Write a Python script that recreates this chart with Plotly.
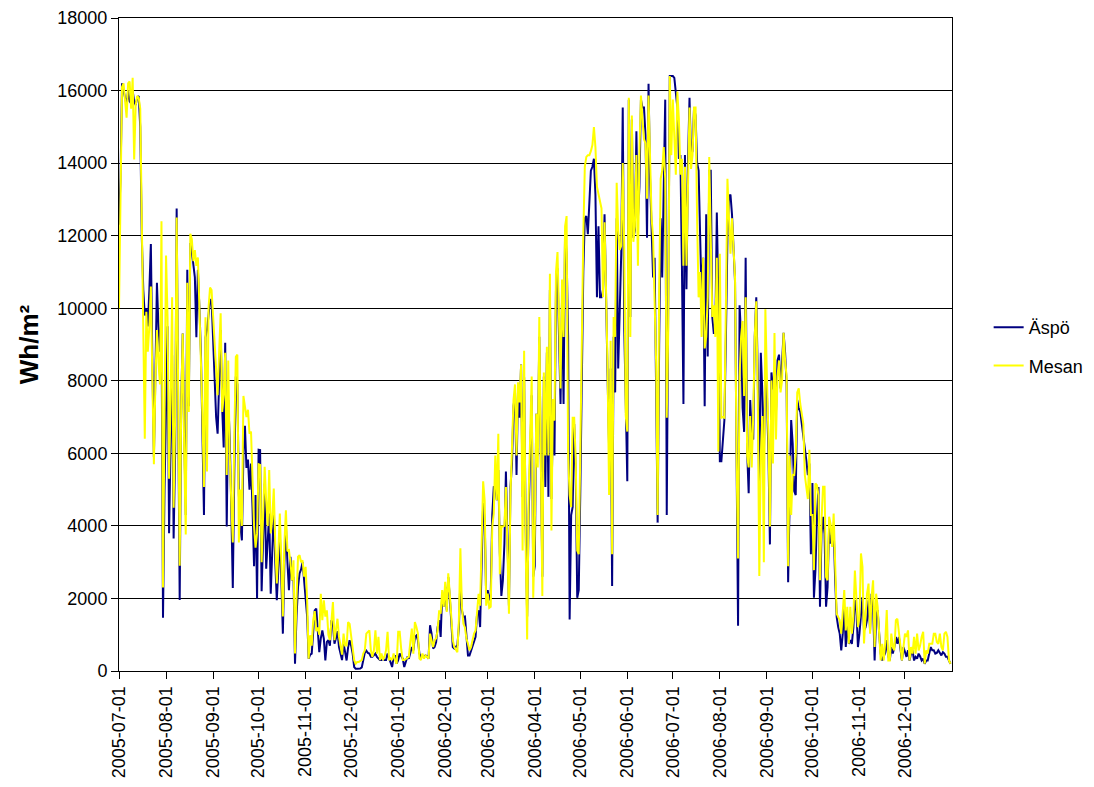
import pandas as pd
import plotly.graph_objects as go

START_DATE = "2005-07-01"

# Daily global radiation, Wh/m2, 2005-07-01 .. 2006-12-31
aspo = [
    12300, 13600, 16200, 16000, 15700, 15600, 16000, 15700, 15650, 16000,
    15700, 15600, 15800, 15850, 15000, 12000, 10500, 9800, 10000, 9500,
    10500, 11770, 8500, 5900, 8200, 10700, 9500, 8800, 10000, 1470,
    5000, 7100, 9500, 3800, 6500, 8700, 3650, 6000, 12750, 6500,
    1960, 7350, 9300, 6500, 4300, 11060, 7300, 11800, 11600, 11200,
    10850, 9200, 11060, 10000, 8770, 6500, 4300, 9200, 9400, 9800,
    10200, 10250, 9300, 8200, 7000, 6540, 8000, 9400, 7250, 6160,
    9050, 3980, 7470, 6380, 4500, 2290, 5500, 8120, 7900, 4850,
    4000, 3600, 6000, 6760, 5600, 5830, 5000, 5720, 4500, 2890,
    4850, 2000, 6100, 6090, 2200, 4000, 5170, 2820, 3500, 4340,
    2130, 3500, 4430, 3000, 1950, 2800, 3800, 2500, 1030, 3000,
    4000, 3000, 2230, 3150, 2500, 2600, 200, 1500, 2320, 2690,
    2800, 3000, 2500, 2130, 1500, 340, 450, 480, 1200, 1670,
    1720, 1000, 520, 900, 1120, 890, 290, 800, 850, 700,
    1400, 1300, 750, 900, 1100, 660, 500, 300, 760, 500,
    290, 650, 850, 700, 480, 110, 60, 60, 60, 70,
    100, 300, 500, 560, 500, 480, 390, 390, 430, 480,
    390, 340, 300, 300, 340, 300, 300, 480, 340, 200,
    110, 390, 430, 200, 300, 480, 400, 340, 110, 250,
    390, 340, 500, 660, 570, 940, 980, 850, 480, 390,
    430, 390, 430, 400, 340, 1260, 1030, 620, 660, 800,
    1210, 1400, 940, 2130, 1770, 2320, 1670, 2590, 2040, 1200,
    660, 620, 660, 710, 1210, 2500, 1670, 1490, 1500, 1030,
    430, 430, 570, 660, 850, 940, 1580, 1670, 1210, 3420,
    4630, 4160, 2020, 2230, 1950, 2125, 4300, 5070, 5080, 4710,
    5540, 3240, 2070, 2500, 3500, 5500, 3220, 1800, 5070, 5700,
    7300, 7600, 5400, 7800, 6980, 8450, 4800, 8100, 4000, 1500,
    4300, 6000, 7600, 2600, 2890, 7090, 5940, 9210, 5000, 2600,
    8120, 5070, 8780, 4800, 10500, 4740, 7000, 5940, 10500, 11100,
    9210, 7360, 10300, 7360, 12150, 11500, 9210, 1420, 4300, 4520,
    6810, 5500, 2020, 2230, 4850, 8670, 11000, 12480, 12540, 12040,
    13000, 13790, 13900, 14120, 13130, 10300, 12260, 10300, 10300, 10520,
    12590, 10000, 8120, 6160, 8340, 2340, 9210, 7680, 12480, 8340,
    10190, 11500, 15530, 9430, 7360, 5230, 15750, 9760, 15200, 11940,
    12150, 14880, 12480, 13350, 15750, 15530, 15530, 14770, 11940, 16190,
    13570, 12000, 10850, 11390, 8000, 4090, 9000, 12480, 10850, 13570,
    15750, 4300, 9210, 16400, 16400, 16400, 16350, 15970, 15530, 14120,
    14220, 11170, 7360, 14220, 10520, 14010, 15800, 14220, 14330, 15530,
    15310, 14010, 13790, 12000, 10300, 11390, 7300, 12590, 8670, 13790,
    13790, 9760, 9320, 9320, 12640, 10300, 5780, 5780, 6500, 6920,
    9210, 11940, 13080, 13130, 12590, 11500, 10740, 5940, 1250, 10080,
    9210, 7250, 6590, 11390, 6050, 4900, 7470, 6490, 6380, 9210,
    10300, 8120, 4850, 8770, 7680, 5940, 8120, 7680, 6000, 3490,
    8230, 7790, 7790, 7140, 8560, 8720, 7790, 8500, 9320, 8780,
    7900, 2450, 5400, 6920, 6270, 4960, 4850, 7470, 7250, 7140,
    6810, 6490, 6270, 5800, 5400, 5720, 3220, 5180, 2020, 2780,
    4250, 5070, 1770, 3780, 4250, 3780, 1770, 2320, 3960, 3510,
    3780, 3960, 2500, 1490, 1210, 1030, 570, 1030, 1770, 660,
    1400, 750, 850, 750, 1200, 1950, 1680, 660, 1030, 1680,
    2040, 1120, 1200, 1400, 1950, 1120, 2130, 1770, 290, 1490,
    1680, 1030, 480, 290, 390, 500, 850, 390, 290, 660,
    480, 660, 940, 750, 940, 600, 290, 660, 480, 390,
    570, 290, 480, 570, 290, 390, 340, 480, 400, 290,
    340, 200, 290, 290, 480, 660, 570, 570, 480, 500,
    570, 480, 430, 520, 480, 390, 390, 290, 200,
]

mesan = [
    10000, 14000, 16100, 16200, 15600, 15250, 16200, 16250, 15500, 16350,
    14100, 15600, 15850, 15800, 15500, 12500, 9000, 6400, 9900, 8800,
    9500, 10600, 8000, 5700, 8000, 9400, 8500, 7900, 12400, 2300,
    7000, 11450, 9750, 5300, 7500, 10300, 4500, 7000, 12500, 7000,
    2900, 7350, 9300, 6000, 3760, 10700, 7140, 12050, 11900, 11300,
    11600, 11170, 11400, 10000, 8770, 7000, 5070, 9750, 5500, 10000,
    10570, 10500, 9800, 9000, 8200, 7600, 8800, 9860, 7140, 7600,
    8770, 5400, 8560, 5900, 4700, 3540, 6500, 8660, 8720, 3540,
    5000, 4000, 7580, 7200, 7000, 7200, 6540, 6600, 5000, 4000,
    3400, 3800, 5700, 5680, 3000, 4500, 5630, 4700, 4000, 5540,
    3790, 4200, 5030, 3500, 2410, 3300, 4340, 3000, 1500, 3500,
    4430, 3300, 3330, 3000, 2500, 3050, 480, 2000, 3150, 3190,
    3000, 3050, 2600, 2870, 1950, 340, 985, 700, 1400, 1650,
    1100, 1200, 1000, 2130, 1400, 1950, 1500, 1670, 1000, 850,
    1500, 1900, 850, 1210, 1440, 940, 700, 450, 1030, 700,
    700, 1350, 1300, 1000, 570, 300, 200, 250, 250, 280,
    300, 480, 570, 1030, 1080, 1120, 570, 390, 570, 1120,
    480, 940, 300, 480, 300, 400, 570, 1080, 300, 350,
    300, 480, 300, 200, 1080, 1080, 600, 300, 300, 330,
    340, 390, 800, 1170, 480, 1350, 1210, 1030, 340, 300,
    480, 340, 430, 380, 340, 1030, 850, 660, 850, 900,
    1120, 1670, 1580, 2230, 1770, 2460, 1630, 2690, 2130, 1300,
    850, 660, 570, 520, 1400, 3380, 1770, 1300, 1200, 890,
    750, 570, 660, 850, 1030, 1120, 1770, 2130, 1800, 3880,
    5230, 4690, 1800, 2130, 1740, 1770, 3970, 4340, 5940, 4710,
    6540, 2670, 3980, 3980, 4000, 5070, 3220, 1580, 4850, 5940,
    7470, 7900, 5940, 7960, 7400, 8450, 3320, 8830, 3500, 870,
    4850, 6500, 8120, 2020, 3760, 7090, 5610, 9760, 5500, 2070,
    8230, 5940, 8940, 5940, 10950, 3870, 7500, 6900, 11000, 11550,
    9760, 7790, 10790, 9210, 12260, 12540, 5940, 4850, 4520, 6980,
    6980, 5830, 3320, 3220, 5940, 9210, 12000, 13900, 14170, 14220,
    14220, 14330, 14500, 14990, 14440, 13350, 13130, 12930, 12750, 10300,
    12370, 10500, 8340, 4850, 9100, 3220, 9760, 9210, 13460, 12150,
    11610, 11720, 14000, 11610, 7030, 6600, 15800, 9210, 15310, 11830,
    12260, 14220, 11170, 14330, 15860, 15200, 14660, 14550, 13020, 15860,
    13790, 12500, 11940, 10300, 8500, 4300, 10500, 13570, 13790, 14440,
    13570, 6980, 9430, 16400, 14220, 15750, 14660, 13680, 15970, 15200,
    13680, 14120, 11170, 13900, 11170, 13790, 15530, 13840, 14220, 15530,
    15530, 12480, 10300, 11000, 9210, 11390, 8890, 9210, 10300, 14170,
    11390, 9760, 10080, 9210, 11390, 6050, 11500, 6980, 7000, 6980,
    10080, 13570, 12480, 11500, 12480, 11800, 10850, 5940, 3100, 8120,
    9210, 9650, 7580, 10300, 5940, 5610, 7030, 5610, 7030, 9210,
    10190, 7470, 2620, 5940, 7030, 3000, 9970, 8120, 6500, 3980,
    8010, 5720, 9320, 6380, 8120, 8560, 7680, 8000, 9320, 8560,
    8120, 2890, 5940, 4300, 5400, 5400, 5940, 7680, 7790, 7360,
    7030, 6810, 5400, 5000, 4740, 6100, 4300, 4300, 2780, 5170,
    5120, 4850, 2500, 4160, 5080, 5080, 2590, 2500, 4250, 4050,
    3420, 4340, 3000, 1580, 1490, 1400, 1030, 1770, 2230, 1120,
    1770, 750, 1770, 1030, 1500, 2770, 1950, 1210, 1490, 3240,
    2870, 760, 1500, 2130, 2410, 1030, 2040, 2500, 660, 2130,
    1770, 940, 290, 750, 290, 800, 1680, 290, 290, 1030,
    660, 570, 1400, 1440, 1120, 700, 290, 750, 1030, 940,
    1120, 290, 660, 480, 940, 480, 1030, 570, 700, 940,
    1080, 200, 570, 480, 750, 750, 750, 1030, 1030, 800,
    750, 1030, 660, 570, 1030, 1080, 940, 290, 200,
]

tick_dates = [
    "2005-07-01", "2005-08-01", "2005-09-01", "2005-10-01", "2005-11-01",
    "2005-12-01", "2006-01-01", "2006-02-01", "2006-03-01", "2006-04-01",
    "2006-05-01", "2006-06-01", "2006-07-01", "2006-08-01", "2006-09-01",
    "2006-10-01", "2006-11-01", "2006-12-01",
]
y_ticks = [0, 2000, 4000, 6000, 8000, 10000, 12000, 14000, 16000, 18000]
y_tick_labels = [str(v) for v in y_ticks]

assert len(aspo) == 549, len(aspo)
assert len(mesan) == 549, len(mesan)

dates = pd.date_range(START_DATE, periods=len(aspo), freq="D")

FONT = "Liberation Sans, Arial, sans-serif"

fig = go.Figure()
fig.add_trace(go.Scatter(x=dates, y=aspo, mode="lines", name="Äspö",
                         legendgroup="a",
                         line=dict(color="#000080", width=2)))
fig.add_trace(go.Scatter(x=dates, y=mesan, mode="lines", name="Mesan",
                         legendgroup="m",
                         line=dict(color="#FFFF00", width=2)))

# the page body has an 8px default margin, so the figure is sized to fit
fig.update_layout(
    width=1086, height=779,
    margin=dict(l=111, r=142, t=10, b=116, autoexpand=False),
    paper_bgcolor="white", plot_bgcolor="white",
    font=dict(family=FONT, size=18, color="black"),
    showlegend=True,
    legend=dict(x=1.044, y=0.497, xanchor="left", yanchor="middle",
                font=dict(size=18), tracegroupgap=12,
                traceorder="grouped", bgcolor="rgba(0,0,0,0)"),
    xaxis=dict(
        type="date", automargin=False,
        range=["2005-07-01", "2007-01-01"],
        tickmode="array", tickvals=tick_dates, ticktext=tick_dates,
        tickangle=-90, ticks="outside", ticklen=7, tickcolor="black",
        showgrid=False, showline=True, linecolor="black", linewidth=1,
        mirror=True, zeroline=False,
        tickfont=dict(size=18),
    ),
    yaxis=dict(
        automargin=False,
        range=[0, 18000], tickmode="array", tickvals=y_ticks,
        ticktext=y_tick_labels,
        ticks="outside", ticklen=7, tickcolor="black",
        showgrid=True, gridcolor="black", gridwidth=1,
        showline=True, linecolor="black", linewidth=1, mirror=True,
        zeroline=False,
        tickfont=dict(size=18),
        title=dict(text="<b>Wh/m²</b>", font=dict(size=26), standoff=11),
    ),
)

fig.write_html("out.html")
